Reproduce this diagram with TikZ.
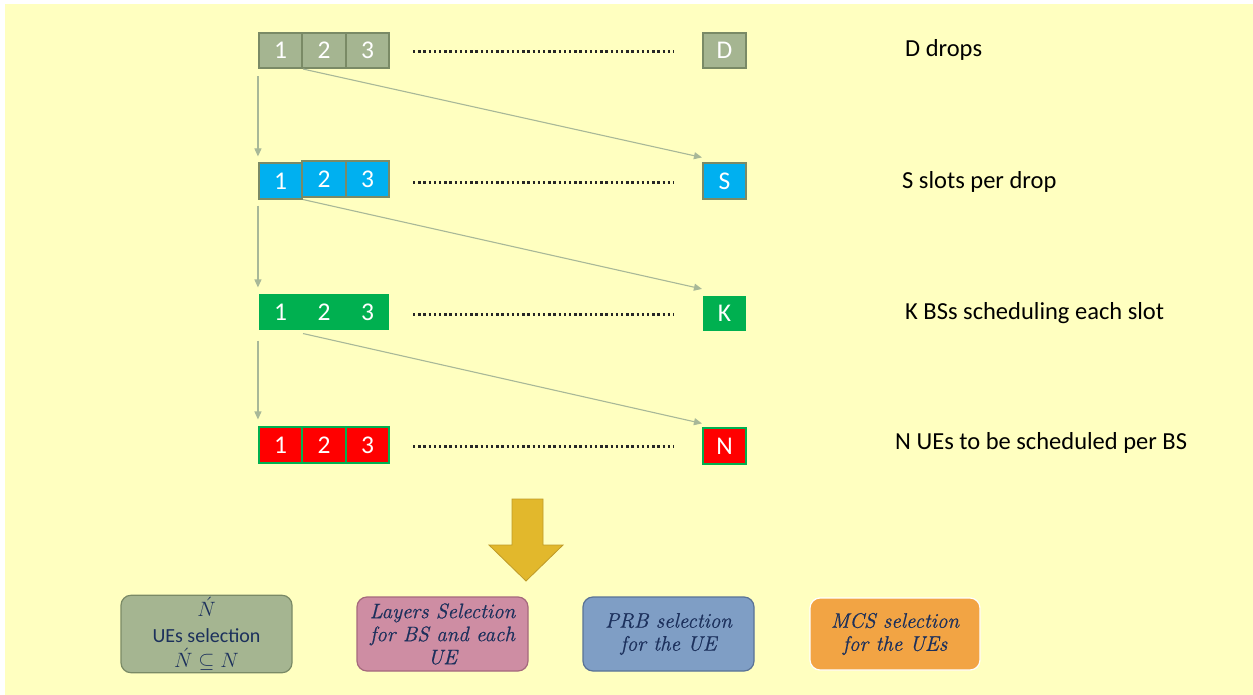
\documentclass[tikz,border=0pt]{standalone}
\usepackage{fontspec}
\usepackage{amsmath,amssymb}
\setsansfont{Carlito}
\newfontfamily\stepitalic{Latin Modern Roman}[FakeBold=0.7]
\usetikzlibrary{arrows.meta}

\definecolor{bgyellow}{RGB}{255,255,192}
\definecolor{olivefill}{RGB}{165,181,145}
\definecolor{olivedraw}{RGB}{122,138,102}
\definecolor{cyanfill}{RGB}{0,176,240}
\definecolor{greenfill}{RGB}{0,176,80}
\definecolor{redfill}{RGB}{255,0,0}
\definecolor{connector}{RGB}{168,184,152}
\definecolor{goldfill}{RGB}{226,184,44}
\definecolor{golddraw}{RGB}{190,154,40}
\definecolor{pinkfill}{RGB}{206,141,163}
\definecolor{pinkdraw}{RGB}{165,105,125}
\definecolor{bluefill}{RGB}{127,158,197}
\definecolor{bluedraw}{RGB}{90,115,150}
\definecolor{orangefill}{RGB}{242,164,68}
\definecolor{navytext}{RGB}{28,48,92}

\tikzset{
  cell/.style={minimum width=43.5pt, minimum height=35.5pt, inner sep=0pt,
    text=white, font=\sffamily\fontsize{25.5}{28}\selectfont, line width=1.6pt},
  dropcell/.style={cell, fill=olivefill, draw=olivedraw},
  slotcell/.style={cell, fill=cyanfill, draw=olivedraw},
  bscell/.style={cell, fill=greenfill},
  uecell/.style={cell, fill=redfill, draw=greenfill},
  rowlabel/.style={anchor=west, inner sep=0pt, font=\sffamily\fontsize{24.5}{28}\selectfont},
  dots/.style={line width=2.3pt, dash pattern=on 2.3pt off 2.9pt, black!85},
  conn/.style={draw=connector, line width=1.1pt,
    -{Triangle[length=8pt,width=7pt]}},
  stepbox/.style={rounded corners=10pt, minimum width=171pt, minimum height=74pt,
    line width=1.2pt, align=center, text=navytext, inner sep=2pt},
  italictext/.style={font=\stepitalic\itshape\fontsize{21}{23}\selectfont},
}

\begin{document}
\begin{tikzpicture}[x=1pt,y=-1pt]
  \useasboundingbox (0,0) rectangle (1253,695);
  \fill[bgyellow] (5,4) rectangle (1253,695);

  % row of drops
  \node[dropcell] (d1) at (280.5,50.5) {1};
  \node[dropcell] (d2) at (324,50.5) {2};
  \node[dropcell] (d3) at (367.5,50.5) {3};
  \node[dropcell] (dD) at (724.5,50.5) {D};
  \coordinate (dots1a) at (413,51.5);
  \coordinate (dots1b) at (674,51.5);
  \draw[dots] (dots1a) -- (dots1b);
  \node[rowlabel] (ldrops) at (905,50) {D drops};

  % row of slots
  \node[slotcell] (s1) at (280.5,181) {1};
  \node[slotcell] (s2) at (324,179) {2};
  \node[slotcell] (s3) at (367.5,179) {3};
  \node[slotcell] (sS) at (724.5,181) {S};
  \coordinate (dots2a) at (413,182.5);
  \coordinate (dots2b) at (674,182.5);
  \draw[dots] (dots2a) -- (dots2b);
  \node[rowlabel] (lslots) at (902,182) {S slots per drop};

  % row of base stations
  \node[bscell] (k1) at (280.5,312) {1};
  \node[bscell] (k2) at (324,312) {2};
  \node[bscell] (k3) at (367.5,312) {3};
  \node[bscell] (kK) at (724.5,313.5) {K};
  \coordinate (dots3a) at (413,314.5);
  \coordinate (dots3b) at (674,314.5);
  \draw[dots] (dots3a) -- (dots3b);
  \node[rowlabel] (lbs) at (905,313) {K BSs scheduling each slot};

  % row of UEs
  \node[uecell] (u1) at (280.5,445) {1};
  \node[uecell] (u2) at (324,445) {2};
  \node[uecell] (u3) at (367.5,445) {3};
  \node[uecell] (uN) at (724.5,446) {N};
  \coordinate (dots4a) at (413,446.5);
  \coordinate (dots4b) at (674,446.5);
  \draw[dots] (dots4a) -- (dots4b);
  \node[rowlabel] (lues) at (895,443) {N UEs to be scheduled per BS};

  % connectors between the levels
  \draw[conn] ([yshift=-7pt]d1.south west) -- ([yshift=6pt]s1.north west);
  \draw[conn] ([yshift=-6pt]s1.south west) -- ([yshift=6pt]k1.north west);
  \draw[conn] ([yshift=-10pt]k1.south west) -- ([yshift=7pt]u1.north west);
  \draw[conn] (d1.south east) -- ([yshift=5pt]sS.north west);
  \draw[conn] (s1.south east) -- ([yshift=6pt]kK.north west);
  \draw[conn] ([yshift=-3pt]k1.south east) -- ([yshift=4pt]uN.north west);

  % big downward arrow
  \filldraw[fill=goldfill, draw=golddraw, line width=0.8pt, line join=miter]
    (512,499) -- (543,499) -- (543,545) -- (563,545) -- (526,581)
    -- (489,545) -- (512,545) -- cycle;

  % scheduling steps
  \node[stepbox, fill=olivefill, draw=olivedraw,
    font=\fontsize{20}{25.5}\selectfont] (ues) at (206.5,634)
    {$\acute{N}$\\ {\sffamily\fontsize{20}{25.5}\selectfont UEs selection}\\ $\acute{N}\subseteq N$};
  \node[stepbox, italictext, fill=pinkfill, draw=pinkdraw] (layers) at (442.5,634)
    {Layers Selection\\ for BS and each\\ UE};
  \node[stepbox, italictext, fill=bluefill, draw=bluedraw] (prb) at (668.5,634)
    {PRB selection\\ for the UE};
  \node[stepbox, italictext, fill=orangefill, draw=white, minimum width=170pt,
    minimum height=72pt] (mcs) at (895,634)
    {MCS selection\\ for the UEs};
\end{tikzpicture}
\end{document}
